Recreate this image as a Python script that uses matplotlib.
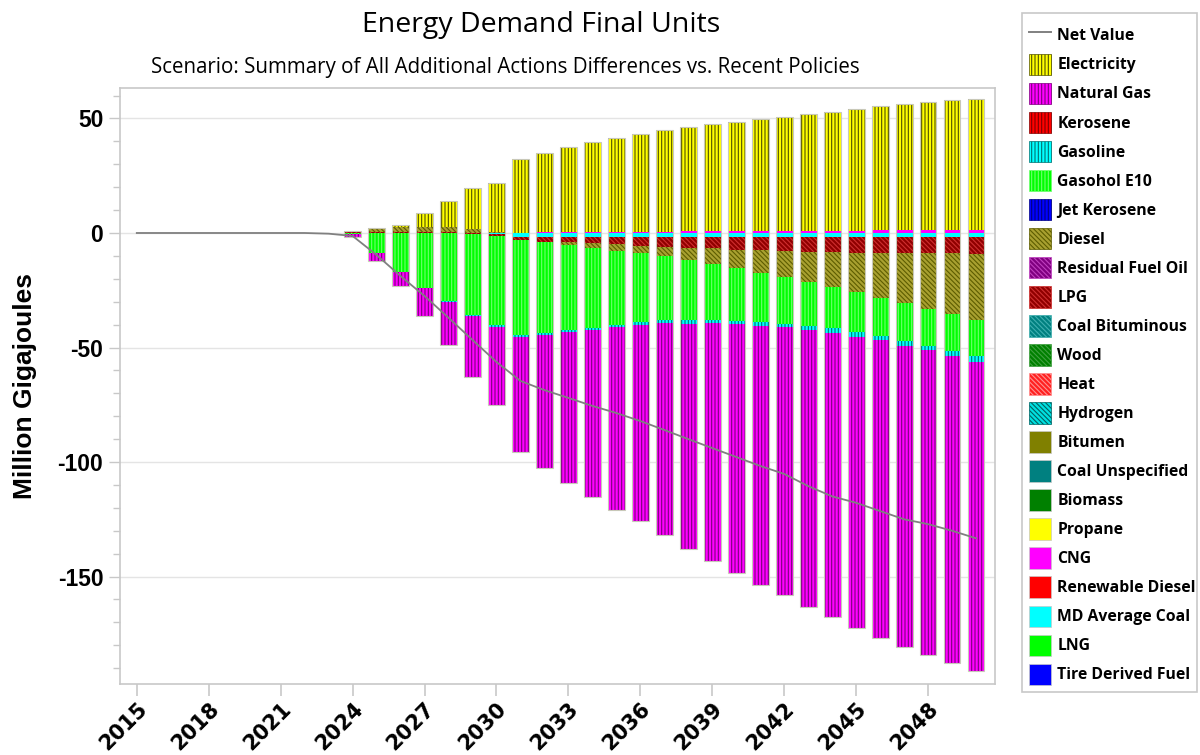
import numpy as np
import matplotlib.pyplot as plt
from matplotlib.patches import Patch, Rectangle
from matplotlib.lines import Line2D
from matplotlib.ticker import MultipleLocator

years = list(range(2015, 2051))
zeros_pre = [0.0] * 9  # 2015-2023

# values, 2024..2050 (million GJ)
electricity = zeros_pre + [0, 0, 1.0, 6.1, 11.5, 17.9, 21.4, 32.3, 34.5, 37.3, 39.3, 41.1, 42.7, 44.4,
                           45.6, 46.8, 47.7, 48.9, 49.7, 50.9, 52.0, 53.3, 54.1, 55.2, 55.7, 56.6, 57.2]
natural_gas = zeros_pre + [-1.5, -3.6, -6.1, -12.1, -18.9, -26.9, -34.0, -50.2, -58.1, -65.8, -72.9, -79.8,
                           -85.6, -92.5, -98.2, -103.8, -108.8, -113.2, -116.9, -120.8, -124.3, -127.2,
                           -129.8, -131.4, -133.1, -133.9, -134.9]
gasoline = zeros_pre + [0, -0.1, -0.2, -0.3, -0.3, -0.4, -0.7, -1.0, -1.0, -1.0, -1.0, -1.0, -1.2, -1.3,
                        -1.5, -1.5, -1.3, -1.5, -1.5, -1.9, -1.9, -2.2, -2.0, -2.2, -2.0, -2.3, -2.5]
gasohol = zeros_pre + [-0.4, -8.6, -16.9, -23.9, -29.7, -35.1, -39.1, -41.3, -39.3, -37.0, -34.6, -32.2,
                       -30.1, -28.1, -26.2, -24.5, -23.1, -21.8, -20.4, -19.2, -17.9, -17.2, -16.6, -16.3,
                       -16.2, -16.0, -15.7]
diesel = zeros_pre + [0.6, 1.75, 1.9, 1.9, 1.9, 1.75, 0.3, 0, -0.4, -1.6, -2.2, -3.1, -3.2, -4.1, -5.4,
                      -6.8, -7.9, -9.8, -11.5, -13.1, -15.3, -17.3, -19.7, -21.8, -24.2, -26.5, -29.0]
lpg = zeros_pre + [0.3, 0.5, 0.6, 0.6, 0.6, -0.6, -0.8, -1.5, -2.0, -2.0, -2.8, -3.2, -3.9, -4.2, -4.7,
                   -4.9, -5.7, -5.7, -6.1, -6.55, -6.8, -7.0, -7.0, -7.1, -7.3, -7.3, -7.4]
cng = zeros_pre + [0, 0, 0, 0, 0, 0, 0, 0, 0.3, 0.3, 0.4, 0.4, 0.5, 0.6, 0.7, 0.8, 0.8, 0.9, 1.0, 1.0,
                   1.0, 1.0, 1.2, 1.2, 1.3, 1.3, 1.5]
md_coal = zeros_pre + [0, 0, 0, 0, 0, 0, -0.4, -1.6, -1.75, -1.75, -1.75, -1.75, -1.75, -1.75, -1.75,
                       -1.75, -1.75, -1.75, -1.75, -1.6, -1.6, -1.6, -1.6, -1.75, -1.6, -1.6, -1.6]
net_value = [0, 0, 0, 0, 0, 0, 0, 0, -0.3, -1.3, -9.6, -18.8, -27.5, -37.0, -46.7, -56.3, -64.6, -68.6,
             -72.0, -75.5, -78.6, -82.1, -86.0, -90.0, -93.9, -97.8, -101.7, -105.2, -110.5, -115.0,
             -117.8, -121.4, -125.0, -127.1, -130.0, -133.3]

# legend order: (name, face, hatch colour, hatch)
VERT = '|||||'
DIAG = '\\' * 7
fuels = [
    ("Electricity", "#ffff00", "#505000", VERT),
    ("Natural Gas", "#ff00ff", "#7a007a", VERT),
    ("Kerosene", "#ff0000", "#800000", VERT),
    ("Gasoline", "#00ffff", "#007070", VERT),
    ("Gasohol E10", "#00ff00", "#70ff70", VERT),
    ("Jet Kerosene", "#0000ff", "#000080", VERT),
    ("Diesel", "#a8a030", "#5c5c00", DIAG),
    ("Residual Fuel Oil", "#800080", "#c040c0", DIAG),
    ("LPG", "#900000", "#d03030", DIAG),
    ("Coal Bituminous", "#008080", "#40b0b0", DIAG),
    ("Wood", "#008000", "#40a040", DIAG),
    ("Heat", "#ff2020", "#ff9090", DIAG),
    ("Hydrogen", "#00e0e0", "#006060", DIAG),
    ("Bitumen", "#808000", None, None),
    ("Coal Unspecified", "#008080", None, None),
    ("Biomass", "#008000", None, None),
    ("Propane", "#ffff00", None, None),
    ("CNG", "#ff00ff", None, None),
    ("Renewable Diesel", "#ff0000", None, None),
    ("MD Average Coal", "#00ffff", None, None),
    ("LNG", "#00ff00", None, None),
    ("Tire Derived Fuel", "#0000ff", None, None),
]
values = {
    "Electricity": electricity, "Natural Gas": natural_gas, "Gasoline": gasoline,
    "Gasohol E10": gasohol, "Diesel": diesel, "LPG": lpg, "CNG": cng, "MD Average Coal": md_coal,
}

plt.rcParams['hatch.linewidth'] = 0.8
plt.rcParams['axes.unicode_minus'] = False

fig = plt.figure(figsize=(12, 7.55), dpi=100)
ax = fig.add_axes([120 / 1200, 1 - 684 / 755, 875 / 1200, 596 / 755])

x = np.array(years, dtype=float)
width = 0.7
pos = np.zeros(len(years))
neg = np.zeros(len(years))
# stacked outward from zero in reverse legend order
for name, face, hc, hatch in reversed(fuels):
    if name not in values:
        continue
    v = np.array(values[name], dtype=float)
    up = np.where(v > 0, v, 0)
    dn = np.where(v < 0, v, 0)
    for part, base in ((up, pos), (dn, neg)):
        mask = part != 0
        if not mask.any():
            continue
        ax.bar(x[mask], part[mask], width, bottom=base[mask], color=face,
               hatch=hatch, edgecolor=hc if hc else face, linewidth=0, zorder=2)
    pos = pos + up
    neg = neg + dn

# thin outline round each bar
tot = (pos - neg) != 0
ax.bar(x[tot], (pos - neg)[tot], width, bottom=neg[tot], fill=False,
       edgecolor="#c8c8b8", linewidth=0.8, zorder=3)

ax.plot(x, net_value, color="#808080", lw=1.3, zorder=4)

ax.set_xlim(2014.3, 2050.79)
ax.set_ylim(-196.9, 63.3)
ax.set_xticks(range(2015, 2050, 3))
ax.yaxis.set_major_locator(MultipleLocator(50))
ax.yaxis.set_minor_locator(MultipleLocator(10))
ax.grid(axis='y', which='major', color='#e4e4e4', lw=1, zorder=0)
ax.set_axisbelow(True)
for s in ax.spines.values():
    s.set_color('#c8c8c8')
    s.set_linewidth(1.2)
ax.tick_params(axis='x', length=8.5, width=1.2, color='#c8c8c8', pad=2)
ax.tick_params(axis='y', which='major', length=8, width=1, color='#c8c8c8', pad=4)
ax.tick_params(axis='y', which='minor', length=5, width=1, color='#c8c8c8')

for lab in ax.get_yticklabels():
    lab.set_fontfamily(['Liberation Sans', 'DejaVu Sans'])
    lab.set_fontweight('bold')
    lab.set_fontsize(16.5)
ax.set_xticklabels([str(y) for y in range(2015, 2050, 3)], rotation=45, ha='right', va='top',
                   rotation_mode='anchor', fontsize=15, fontweight='bold',
                   family=['Liberation Sans Narrow', 'DejaVu Sans'])
ax.set_ylabel("Million Gigajoules", fontsize=19, fontweight='bold',
              family=['Liberation Sans', 'DejaVu Sans'], labelpad=15)

fig.text(541 / 1200, 1 - 25 / 755, "Energy Demand Final Units", ha='center', va='center',
         fontsize=20.5, family=['Open Sans', 'DejaVu Sans'])
fig.text(505 / 1200, 1 - 68 / 755,
         "Scenario: Summary of All Additional Actions Differences vs. Recent Policies",
         ha='center', va='center', fontsize=14.8, family=['Open Sans', 'DejaVu Sans'])

handles = [Line2D([], [], color="#808080", lw=1.4)]
labels = ["Net Value"]
for name, face, hc, hatch in fuels:
    handles.append(Patch(facecolor=face, edgecolor=hc if hc else '#c8c8c8', hatch=hatch,
                         linewidth=0.5))
    labels.append(name)
leg = fig.legend(handles, labels, loc='upper left',
                 bbox_to_anchor=(1024 / 1200, 1 - 692 / 755, 173 / 1200, 673 / 755),
                 mode='expand', borderaxespad=0, borderpad=0.35, frameon=False,
                 handlelength=1.38, handleheight=1.74, handletextpad=0.4, labelspacing=0.475,
                 prop={'family': ['Open Sans', 'DejaVu Sans'], 'weight': 'bold', 'size': 11.3})
# legend frame drawn separately so the box matches the original
fig.patches.append(Rectangle((1022 / 1200, 1 - 692 / 755), 175 / 1200, 679 / 755,
                             transform=fig.transFigure, fill=False, edgecolor='#c8c8c8',
                             linewidth=1.2))

fig.savefig("out.png", dpi=100)
